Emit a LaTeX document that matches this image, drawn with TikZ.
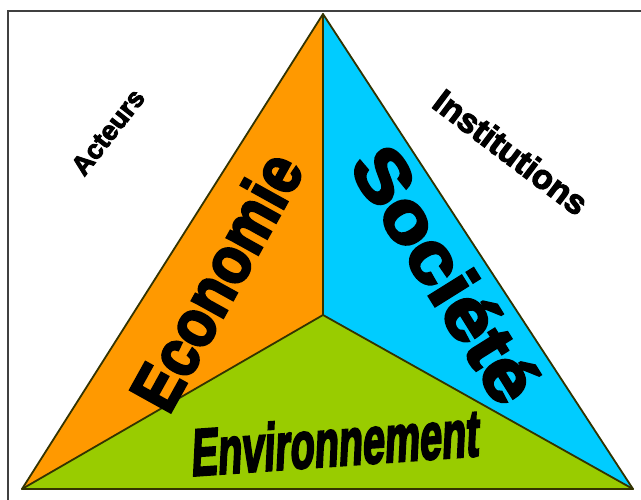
\documentclass[tikz,border=0pt]{standalone}
\usepackage{fontspec}
\setmainfont{Liberation Sans}
\newfontfamily\heavyfont[BoldFeatures={FakeBold=4}]{Liberation Sans}
\newfontfamily\sidefont[BoldFeatures={FakeBold=3.5}]{Liberation Sans}
\definecolor{ecoorange}{HTML}{FF9900}
\definecolor{soccyan}{HTML}{00CCFF}
\definecolor{envgreen}{HTML}{99CC00}
\definecolor{edgecol}{HTML}{333300}
\definecolor{framecol}{HTML}{404040}
\begin{document}
\begin{tikzpicture}[x=1pt,y=-1pt,
  edge/.style={draw=edgecol, line width=1.8pt, line join=round, line cap=round},
  bigword/.style={text=black, inner sep=0pt, font={\heavyfont\bfseries\fontsize{#1}{#1}\selectfont}},
  sideword/.style={text=black, inner sep=0pt, font={\sidefont\bfseries\fontsize{#1}{#1}\selectfont}}]
\clip (0,0) rectangle (641,499);
\fill[white] (0,0) rectangle (641,499);
\draw[framecol, line width=1.5pt] (8,11) rectangle (650,510);
\coordinate (A) at (323,14);
\coordinate (L) at (22,489);
\coordinate (R) at (633,489);
\coordinate (O) at (323,315);
\fill[ecoorange] (A) -- (O) -- (L) -- cycle;
\fill[soccyan] (A) -- (R) -- (O) -- cycle;
\fill[envgreen] (L) -- (O) -- (R) -- cycle;
\draw[edge] (A) -- (L) -- (R) -- cycle;
\draw[edge] (O) -- (A);
\draw[edge] (O) -- (L);
\draw[edge] (O) -- (R);
\node[bigword=67, rotate=61, xscale=0.88] (eco) at (216,281) {Economie};
\node[bigword=72, rotate=-58, xscale=1.12] (soc) at (446,274) {Société};
\node[bigword=66, rotate=4, xscale=0.6, xslant=0.2] (env) at (336,442) {Environnement};
\node[sideword=27, rotate=52] (act) at (108,132) {Acteurs};
\node[sideword=34, rotate=-37] (inst) at (511,152) {Institutions};
\end{tikzpicture}
\end{document}
